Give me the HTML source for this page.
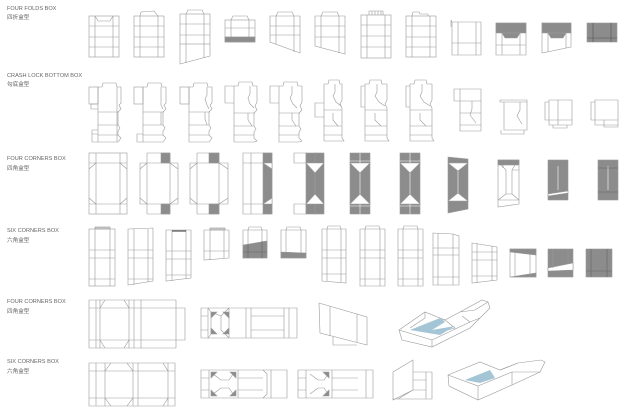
<!DOCTYPE html>
<html><head><meta charset="utf-8"><style>
html,body{margin:0;padding:0;background:#fff}
svg{display:block}
text{font-family:"Liberation Sans","Noto Sans CJK SC",sans-serif;fill:#666;font-size:5.6px}
</style></head><body>
<svg width="640" height="409" viewBox="0 0 640 409" xmlns="http://www.w3.org/2000/svg">
<text x="7" y="10">FOUR FOLDS BOX</text><text x="7" y="19">四折盒型</text>
<text x="7" y="77">CRASH LOCK BOTTOM BOX</text><text x="7" y="86">勾底盒型</text>
<text x="7" y="160">FOUR CORNERS BOX</text><text x="7" y="170">四角盒型</text>
<text x="7" y="232">SIX CORNERS BOX</text><text x="7" y="242">六角盒型</text>
<text x="7" y="303">FOUR CORNERS BOX</text><text x="7" y="313">四角盒型</text>
<text x="7" y="363">SIX CORNERS BOX</text><text x="7" y="373">六角盒型</text>

<defs>
<g id="ff">
<rect x="0" y="0" width="30" height="41"/>
<path d="M0 10H30M0 21H30M0 31H30M6 0V41M24 0V41"/>
</g>
</defs>

<g fill="none" stroke="#9a9a9a" stroke-width="0.6">
<!-- Row 1 -->
<g transform="translate(89,16)"><use href="#ff"/><path d="M6 0L9 5H21L24 0"/></g>
<g transform="translate(134,16)"><use href="#ff"/><path d="M6 0L7 -4L20 -5L24 0"/></g>
<g transform="translate(180,14)"><rect x="0" y="0" width="30" height="30"/><path d="M0 10H30M0 21H30M6 0V49M24 0V44M0 30V50L30 42V30M6 0L8 -4H22L24 0"/></g>
<g transform="translate(225,20)"><rect x="0" y="0" width="30" height="22"/><path d="M0 8H30M0 17H30M6 0V22M24 0V22M6 0L8 -4H22L24 0"/><rect x="0" y="17" width="30" height="5" fill="#8c8c8c"/></g>
<g transform="translate(270,16)"><path d="M0 0H30V37L0 26ZM0 10H30M0 19H30M6 0V28M24 0V36M6 0L8 -4H22L24 0"/></g>
<g transform="translate(315,16)"><path d="M0 0H30V38L0 30ZM0 10H30M0 21H30M6 0V31M24 0V37M6 0L8 -4H22L24 0"/></g>
<g transform="translate(361,15)"><rect x="0" y="0" width="30" height="43"/><path d="M0 10H30M0 21H30M0 32H30M6 0V43M24 0V43M8 0V-4H22V0M11 -4V0M14 -4V0M17 -4V0M20 -4V0"/></g>
<g transform="translate(406,16)"><rect x="0" y="0" width="30" height="41"/><path d="M0 10H30M0 21H30M0 31H30M6 0V41M24 0V41M6 0L7 -4H13L14 -2H22V0"/></g>
<g transform="translate(452,22)"><path d="M0 0H29V33H0ZM0 21H29M6 0V33M24 0V33M0 0L-1 -2V5"/></g>
<g transform="translate(496,23)"><path d="M0 0H30V32H0ZM0 22H30M6 0V32M24 0V32"/><path d="M0 0H30V10H0Z" fill="#8c8c8c"/><path d="M6 10L9 15H21L24 10Z" fill="#8c8c8c"/></g>
<g transform="translate(542,23)"><path d="M0 0H29V24L0 30ZM6 0V29M24 0V25"/><path d="M0 0H29V10H0Z" fill="#8c8c8c"/><path d="M6 10L9 15H21L24 10Z" fill="#8c8c8c"/></g>
<g transform="translate(587,23)"><rect x="0" y="0" width="30" height="19" fill="#8c8c8c"/><path d="M0 15H30M6 0V19M24 0V19" stroke="#555"/></g>

<!-- Row 2: crash lock -->
<g transform="translate(89,83)">
<rect x="0" y="4" width="9" height="17"/>
<path d="M9 4H13L14 0H27L28 4H32V20L30 22L32 26L29 29V42L31 45L29 48V52L32 55L29 59H9V51H3V59H9M9 4V59M28 4V59M3 51V47H9M9 21H2V26H9M9 29H30M9 42H29M9 52H29"/>
</g>
<g transform="translate(134,83)">
<rect x="0" y="4" width="9" height="17"/>
<path d="M9 4H13L14 0H27L28 4H32V20L30 22L32 26L29 29V42L31 45L29 48V52L32 55L29 59H9V51H3V59H9M9 4V59M27 4V22L29 26M27 29V42M9 29H30M9 42H29M9 52H29"/>
</g>
<g transform="translate(180,83)">
<rect x="0" y="4" width="9" height="17"/>
<path d="M9 4H13L14 0H27L28 4H32V20L30 22L32 26L29 29V42L31 45L29 48V52L32 55L29 59H9V51H9M9 4V59M27 4V12L25 16L27 22L29 26M25 29V36L27 42M9 29H30M9 42H29M9 52H29"/>
</g>
<g transform="translate(225,82)">
<path d="M0 4H9V21H0ZM9 4H13L14 0H27L28 4H32V20L30 24L32 28L29 31V44L31 47L29 50V56L32 59L29 60H9V4M25 4V12L23 16L25 22L29 26M23 31V38L27 44M9 31H30M9 44H29M9 53H29"/>
</g>
<g transform="translate(270,80)">
<path d="M0 6H9V23H0ZM9 6H13L14 2H27L28 6H32V22L30 26L32 30L29 33V46L31 49L29 52V58L32 61L29 62H9V6M22 6V14L20 18L23 24L27 28M22 33V40L26 46M9 33H30M9 46H29M9 55H29"/>
</g>
<g transform="translate(315,80)">
<path d="M0 23H9V37H0ZM9 4H13L14 0H24L25 4H27V20L25 24L27 28V58L29 61H9V4M20 4V12L18 16L21 22L26 26M18 33V40L23 46M9 30H27M9 46H27M9 55H27"/>
</g>
<g transform="translate(361,80)">
<path d="M0 6H4V27H0ZM4 4H8L9 0H20L21 4H26V20L24 24L26 28V58L28 61H4V4M16 4V12L14 16L18 22L24 26M14 33V40L20 46M4 30H26M4 46H26M4 55H26"/>
</g>
<g transform="translate(406,80)">
<path d="M0 6H4V27H0ZM4 4H8L9 0H20L21 4H26V20L24 24L26 28V58L28 61H4V4M16 4V12L14 16L18 22L24 26M14 33V40L20 46M4 30H26M4 46H26M4 55H26"/>
</g>
<g transform="translate(454,89)">
<path d="M0 0H27V12H0ZM6 0V12M6 12V42H27V12M6 24H27M6 36H27M18 12V20L16 26L22 34"/>
</g>
<g transform="translate(500,100)">
<path d="M0 0H27V2H0ZM4 2V30H27V2M20 2V10L17 16L22 24M1 30V34H24V30"/>
</g>
<g transform="translate(545,100)">
<path d="M0 2H4V20H0ZM4 0H27V25H4ZM13 0V25M4 20H27M8 25V28H22V25"/>
</g>
<g transform="translate(591,100)">
<path d="M0 2H4V20H0ZM4 0H27V25H4ZM4 20H27M13 20V27H27V20"/>
</g>

<!-- Row 3 -->
<g transform="translate(89,153)">
<rect x="0" y="0" width="38" height="61"/>
<path d="M7 0V61M31 0V61M0 10H38M0 51H38M0 16L7 10M31 10L38 16M0 45L7 51M31 51L38 45"/>
</g>
<g transform="translate(140,153)">
<path d="M0 10H38V51H0ZM7 0V61M30 0V61M7 0H30M7 61H30M0 16L7 10M30 10L38 16M0 45L7 51M30 51L38 45M7 10H30M7 51H30"/>
<rect x="21" y="0" width="9" height="10" fill="#8c8c8c"/><rect x="21" y="51" width="9" height="10" fill="#8c8c8c"/>
</g>
<g transform="translate(190,153)">
<path d="M0 10H38V51H0ZM7 0V61M29 0V61M7 0H29M7 61H29M0 16L7 10M29 10L38 16M0 45L7 51M29 51L38 45M7 10H29M7 51H29"/>
<rect x="19" y="0" width="10" height="10" fill="#8c8c8c"/><rect x="19" y="51" width="10" height="10" fill="#8c8c8c"/>
</g>
<g transform="translate(243,153)">
<path d="M0 0H29V61H0ZM8 0V61M0 10H20M0 51H20M20 10L27 16V45L20 51"/>
<rect x="20" y="0" width="9" height="61" fill="#8c8c8c"/><path d="M20 10H29V16ZM20 51H29V45Z" fill="#fff"/>
</g>
<g transform="translate(294,153)">
<path d="M0 0H12V10H0ZM0 51H12V61H0Z"/>
<rect x="12" y="0" width="10" height="61" fill="#8c8c8c"/><rect x="21" y="0" width="9" height="61" fill="#8c8c8c"/>
<path d="M12 10H30L21 20L12 10ZM12 51H30L21 41Z" fill="#fff"/><path d="M21 20V41"/>
</g>
<g transform="translate(350,153)">
<rect x="0" y="0" width="20" height="61" fill="#8c8c8c"/>
<path d="M0 10H20L10 20Z M0 51H20L10 41Z" fill="#fff"/><path d="M10 0V10M10 51V61M10 20V41M0 8H20M0 53H20" stroke="#fff"/>
</g>
<g transform="translate(400,153)">
<rect x="0" y="0" width="20" height="61" fill="#8c8c8c"/>
<path d="M0 10H20L10 20Z M0 51H20L10 41Z" fill="#fff"/><path d="M10 0V10M10 51V61M10 20V41M0 8H20M0 53H20" stroke="#fff"/>
</g>
<g transform="translate(448,157)">
<path d="M0 0L20 2V52L0 56Z" fill="#8c8c8c"/>
<path d="M0 6H20L10 14Z M0 44H20L10 36Z" fill="#fff"/><path d="M10 14V36" stroke="#fff"/>
</g>
<g transform="translate(498,160)">
<path d="M0 0H21V44L0 47Z"/><rect x="0" y="0" width="21" height="5" fill="#8c8c8c"/>
<path d="M3 5L8 10V34L0 40M21 10L14 10V34L21 40M8 34H14M0 40H21M5 5V8M14 10L17 5"/>
</g>
<g transform="translate(548,160)">
<rect x="0" y="0" width="20" height="40" fill="#8c8c8c"/><path d="M10 6V30" stroke="#fff"/><path d="M0 34L20 31V33L0 36Z" fill="#fff"/>
</g>
<g transform="translate(598,160)">
<rect x="0" y="0" width="20" height="40" fill="#8c8c8c"/><path d="M10 6V30" stroke="#fff"/><path d="M0 8H20M0 32H20" stroke="#666"/>
</g>

<!-- Row 4 -->
<g transform="translate(89,229)">
<rect x="0" y="0" width="26" height="57"/><path d="M6 0V57M21 0V57M0 21H26M0 29H26M0 50H26"/><rect x="6" y="-2" width="15" height="2" fill="#ccc"/>
</g>
<g transform="translate(128,229)">
<path d="M0 0L25 -1V52L0 56ZM6 0V56M20 0V53M0 21H25M0 29H25M0 50H25"/>
</g>
<g transform="translate(166,230)">
<path d="M0 0H25V48L0 51ZM6 0V51M20 0V49M0 21H25M0 29H25M0 45H25"/><path d="M6 1H20" stroke="#333" stroke-width="1"/>
</g>
<g transform="translate(204,230)">
<path d="M0 0H25V28L0 30ZM6 0V30M20 0V28M0 21H25"/><rect x="6" y="-2" width="15" height="2" fill="#ccc"/>
</g>
<g transform="translate(243,230)">
<path d="M0 0H24V28H0ZM5 0L6 -3H18L19 0M5 0V28M19 0V28"/><path d="M0 15L24 11V28H0Z" fill="#8c8c8c"/><path d="M0 22H24M5 15V28M19 11V28" stroke="#666"/>
</g>
<g transform="translate(281,230)">
<path d="M0 0H25V28H0ZM5 0L6 -3H19L20 0M5 0V28M20 0V28"/><path d="M0 22L25 23V28H0Z" fill="#8c8c8c"/>
</g>
<g transform="translate(322,229)">
<path d="M0 0H24V54L0 52ZM5 0L6 -3H18L19 0M5 0V52M19 0V53M0 21H24M0 29H24M0 45H24"/>
</g>
<g transform="translate(360,229)">
<path d="M0 0H25V57H0ZM5 0L6 -3H19L20 0M5 0V57M20 0V57M0 21H25M0 29H25M0 50H25"/>
</g>
<g transform="translate(398,229)">
<path d="M0 0H25V57H0ZM5 0L6 -3H19L20 0M5 0V57M20 0V57M0 21H25M0 29H25M0 50H25"/>
</g>
<g transform="translate(433,233)">
<path d="M0 0L20 1L26 3V52H0ZM5 0V52M20 1V52M0 15H26M0 22H26M0 44H26"/>
</g>
<g transform="translate(472,243)">
<path d="M0 0L25 4V37L0 40ZM5 0V40M20 3V38M0 9H25M0 17H25M0 33H25"/>
</g>
<g transform="translate(510,249)">
<rect x="0" y="0" width="26" height="28"/><path d="M0 0H26V6L0 3Z" fill="#8c8c8c"/><path d="M0 28L26 24V28Z" fill="#8c8c8c"/><path d="M5 3V28M20 5V28"/>
</g>
<g transform="translate(548,249)">
<rect x="0" y="0" width="25" height="28" fill="#8c8c8c"/><path d="M0 19L25 14V21L0 22Z" fill="#fff"/><path d="M5 0V19M20 0V14"/>
</g>
<g transform="translate(586,249)">
<rect x="0" y="0" width="26" height="28" fill="#8c8c8c"/><path d="M5 0V28M21 0V28M0 22H26" stroke="#666"/>
</g>

<!-- Row 5 -->
<g transform="translate(89,300)">
<path d="M0 0H87V48H0ZM87 8H96V40H87M0 8H87M0 40H87M7 0V48M11 0V48M40 0V48M45 0V48M52 0V48M11 8L16 0M40 8L35 0M11 40L16 48M40 40L35 48"/>
</g>
<g transform="translate(201,308)">
<path d="M0 0H96V30H0ZM0 8H7V22H0M7 0V30M28 0L20 8L10 4M7 0L10 4V26L7 30M28 0V30M45 0V30M50 0V30M88 0V30M50 8H83M50 22H83M83 0V30M28 30L20 22M20 8V22"/>
<path d="M10 4H16L10 10Z M28 4H22L28 10Z M10 26H16L10 20Z M28 26H22L28 20Z" fill="#8c8c8c"/>
</g>
<path d="M319 303L367 317V345L320 333ZM330 306V336M357 314V342M333 337V345H357"/>
<g>
<path d="M399 330L425 312L445 320L460 312L482 300L488 302L490 308L480 318L470 328L432 347L402 340Z"/>
<path d="M399 330L432 340L432 347M432 340L470 322L480 318M425 312V318L410 328M445 320L455 328L440 332L420 330L440 320Z"/>
<path d="M410 330L440 318L445 322L432 330L455 326L440 335Z" fill="#a3c5d6" stroke="none"/>
<path d="M460 312L475 310L488 302M470 322L462 316"/>
</g>

<!-- Row 6 -->
<g transform="translate(89,363)">
<path d="M0 0H86V43H0ZM0 8H86M0 35H86M7 0V43M16 0V43M44 0V43M49 0V43M79 0V43M16 8L22 0M44 8L38 0M16 35L22 43M44 35L38 43M79 8L74 0M79 35L74 43"/>
</g>
<g transform="translate(201,370)">
<path d="M0 0H86V28H0ZM0 8H8V20H0M8 0V28M37 0V28M70 0V28M37 8H62M37 20H62M62 0L66 4V24L62 28M12 4L20 10H28L32 4M12 24L20 18H28L32 24"/>
<path d="M10 2H16L10 8Z M35 2H29L35 8Z M10 26H16L10 20Z M35 26H29L35 20Z" fill="#8c8c8c"/>
</g>
<g transform="translate(298,370)">
<path d="M0 0H75V28H0ZM0 8H8V20H0M8 0V28M34 0V28M68 0V28M34 8H60M34 20H60M12 4L20 10H26L30 4M12 24L20 18H26L30 24"/>
<path d="M25 2H31L31 8Z M25 26H31L31 20Z" fill="#8c8c8c"/>
</g>
<path d="M393 372L413 360V390L393 400ZM413 372H432V399H393M413 380H426M413 390H426M426 372V399M398 399L413 390"/>
<g>
<path d="M448 375L480 362L500 370L518 363L541 360L545 362L540 372L512 385L478 400L449 386Z"/>
<path d="M448 375L478 386L478 400M478 386L512 372L540 372M500 370L518 363M512 372V385"/>
<path d="M465 380L490 370L495 378L480 383Z" fill="#a3c5d6" stroke="none"/>
</g>
</g>
</svg>
</body></html>
